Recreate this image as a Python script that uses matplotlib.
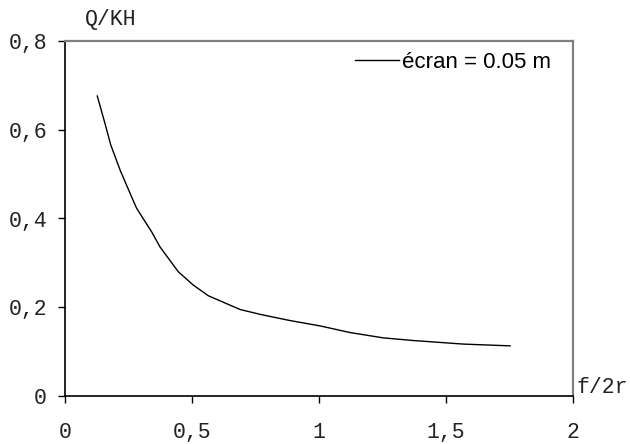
import matplotlib
matplotlib.use("Agg")
import matplotlib.pyplot as plt

# Discharge ratio versus relative spacing
f_2r = [0.127, 0.157, 0.18, 0.217, 0.256, 0.282, 0.341, 0.374, 0.446, 0.505,
        0.564, 0.689, 0.768, 0.886, 1.004, 1.122, 1.253, 1.371, 1.568, 1.752]
q_kh = [0.676, 0.615, 0.566, 0.509, 0.457, 0.423, 0.370, 0.336, 0.280, 0.250,
        0.226, 0.195, 0.184, 0.170, 0.158, 0.143, 0.131, 0.125, 0.117, 0.113]
series_label = "écran = 0.05 m"

x_ticks = [0, 0.5, 1, 1.5, 2]
x_tick_labels = ["0", "0,5", "1", "1,5", "2"]
y_ticks = [0, 0.2, 0.4, 0.6, 0.8]
y_tick_labels = ["0", "0,2", "0,4", "0,6", "0,8"]

mono = "Liberation Mono"
sans = "Liberation Sans"
fs = 15.5
text_color = "#222222"

fig = plt.figure(figsize=(6.3, 4.44), dpi=100)
ax = fig.add_axes([65 / 630, 1 - 396 / 444, (573 - 65) / 630, (396 - 41) / 444])

ax.plot(f_2r, q_kh, color="black", lw=1.0, label=series_label)

ax.set_xlim(0, 2)
ax.set_ylim(0, 0.8)
ax.set_xticks(x_ticks)
ax.set_xticklabels(x_tick_labels, family=mono, fontsize=fs)
ax.set_yticks(y_ticks)
ax.set_yticklabels(y_tick_labels, family=mono, fontsize=fs)
ax.tick_params(axis="x", direction="out", length=5, width=1, pad=14,
               color="black", labelcolor=text_color)
ax.tick_params(axis="y", direction="out", length=5, width=1, pad=8,
               color="black", labelcolor=text_color)

for side in ("left", "bottom"):
    ax.spines[side].set_color("black")
    ax.spines[side].set_linewidth(1.2)
for side in ("top", "right"):
    ax.spines[side].set_color("#808080")
    ax.spines[side].set_linewidth(1.6)

fig.text(111 / 630, 1 - 20 / 444, "Q/KH", family=mono, fontsize=fs,
         color=text_color, ha="center", va="center")
fig.text(577 / 630, 1 - 387 / 444, "f/2r", family=mono, fontsize=fs,
         color=text_color, ha="left", va="center")

ax.legend(loc="center left", frameon=False, prop={"family": sans, "size": 16},
          handlelength=2.0, handletextpad=0.12, borderpad=0, borderaxespad=0,
          bbox_to_anchor=(355 / 630, 1 - 62 / 444), bbox_transform=fig.transFigure)

fig.savefig("out.png", dpi=100, facecolor="white")
